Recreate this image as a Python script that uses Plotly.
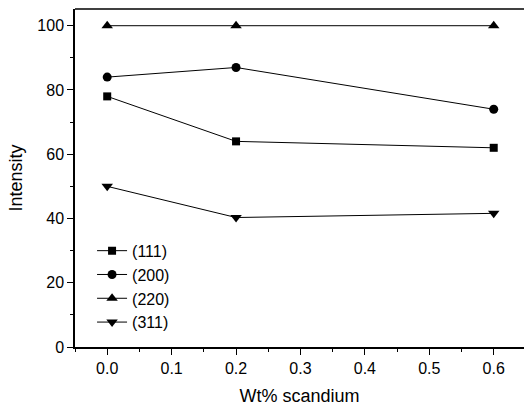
import plotly.graph_objects as go

x_vals = [0.0, 0.2, 0.6]
s111 = [78, 64, 62]
s200 = [84, 87, 74]
s220 = [100, 100, 100]
s311 = [50, 40.3, 41.6]
names = ["(111)", "(200)", "(220)", "(311)"]
symbols = ["square", "circle", "triangle-up", "triangle-down"]
sizes = [8, 9, 10, 10]

fig = go.Figure()
for ys, nm, sym, sz in zip([s111, s200, s220, s311], names, symbols, sizes):
    fig.add_trace(go.Scatter(
        x=x_vals, y=ys, name=nm, mode="lines+markers",
        line=dict(color="black", width=1),
        marker=dict(symbol=sym, size=sz, color="black"),
    ))

FONT = "Liberation Sans, Arial, sans-serif"
fig.update_layout(
    width=524, height=406,
    margin=dict(l=75, r=0, t=9, b=59),
    paper_bgcolor="white", plot_bgcolor="white",
    font=dict(family=FONT, size=16, color="black"),
    showlegend=True,
    legend=dict(x=0.038, y=0.335, xanchor="left", yanchor="top",
                bgcolor="rgba(0,0,0,0)", font=dict(size=16, family=FONT),
                tracegroupgap=0, itemwidth=30),
    xaxis=dict(range=[-0.05, 0.647], tickvals=[0, 0.1, 0.2, 0.3, 0.4, 0.5, 0.6],
               ticktext=["0.0", "0.1", "0.2", "0.3", "0.4", "0.5", "0.6"],
               ticks="outside", ticklen=6, tickwidth=1, tickcolor="black",
               minor=dict(dtick=0.05, tick0=0.05, ticks="outside", ticklen=3, tickcolor="black", showgrid=False),
               showline=True, linecolor="black", linewidth=1.5, showgrid=False, zeroline=False,
               title=dict(text="Wt% scandium", font=dict(size=18), standoff=14)),
    yaxis=dict(range=[0, 105.2], tickvals=[0, 20, 40, 60, 80, 100],
               ticks="outside", ticklen=6, tickwidth=1, tickcolor="black",
               minor=dict(dtick=10, tick0=10, ticks="outside", ticklen=3, tickcolor="black", showgrid=False),
               showline=True, linecolor="black", linewidth=1.5, showgrid=False, zeroline=False,
               title=dict(text="Intensity", font=dict(size=18), standoff=10)),
    shapes=[dict(type="line", xref="paper", yref="paper", x0=0, x1=1, y0=1, y1=1,
                 line=dict(color="black", width=1.5))],
)
fig.write_html("out.html", config={"displayModeBar": False},
               post_script="document.body.style.margin='0';document.body.style.overflow='hidden';")
